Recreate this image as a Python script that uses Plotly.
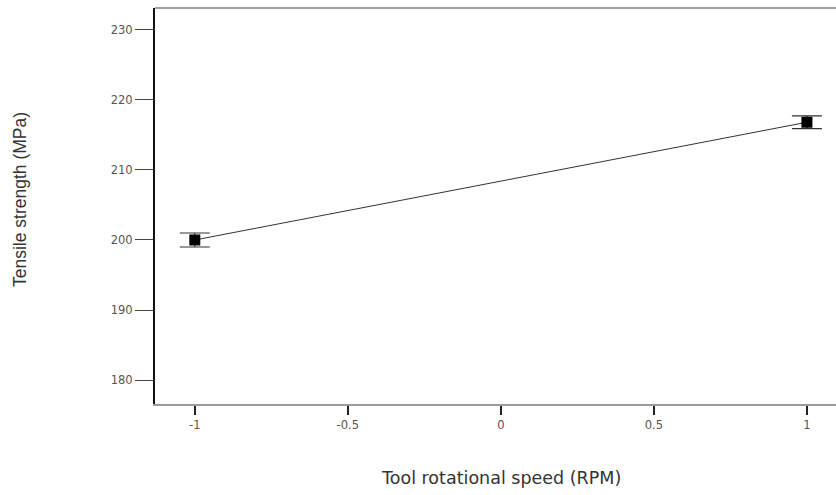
import plotly.graph_objects as go

x_vals = [-1, 1]
y_vals = [200.0, 216.8]
err_vals = [1.0, 0.9]
x_ticks = [-1, -0.5, 0, 0.5, 1]
x_tick_text = ["-1", "-0.5", "0", "0.5", "1"]
y_ticks = [180, 190, 200, 210, 220, 230]

fig = go.Figure()
fig.add_trace(go.Scatter(
    x=x_vals, y=y_vals, mode="lines+markers",
    line=dict(color="#333333", width=1),
    marker=dict(symbol="square", size=11, color="black"),
    error_y=dict(type="data", array=err_vals, visible=True, color="#333333", thickness=1.2, width=15),
    showlegend=False,
))

font = "Liberation Sans, Arial, sans-serif"
wide = "DejaVu Sans, sans-serif"
fig.update_layout(
    width=836, height=495,
    margin=dict(l=155, r=0, t=8, b=91),
    plot_bgcolor="white", paper_bgcolor="white",
    font=dict(family=font, color="#444444"),
    xaxis=dict(range=[-1.13, 1.095], tickvals=x_ticks, ticktext=x_tick_text,
               showgrid=False, zeroline=False, showline=True, linecolor="#9a9a9a", linewidth=2,
               ticks="outside", ticklen=9, tickwidth=1.5, tickcolor="#222222",
               tickfont=dict(size=11.5, color="#555555", family=wide)),
    yaxis=dict(range=[176.6, 233.1], tickvals=y_ticks,
               showgrid=False, zeroline=False, showline=True, linecolor="#111111", linewidth=2,
               ticks="outside", ticklen=18, tickwidth=1.2, tickcolor="#444444",
               tickfont=dict(size=11.5, color="#555555", family=wide)),
    shapes=[dict(type="line", xref="paper", yref="paper", x0=0, x1=1, y0=1, y1=1,
                 line=dict(color="#a0a0a0", width=2))],
    annotations=[
        dict(text="Tool rotational speed (RPM)", xref="paper", yref="paper",
             x=(501 - 155) / 681, y=-(478 - 404) / 396, showarrow=False,
             font=dict(size=17.5, color="#333333", family=wide), xanchor="center", yanchor="middle"),
        dict(text="Tensile strength (MPa)", xref="paper", yref="paper",
             x=-(155 - 20) / 681, y=(404 - 200) / 396, showarrow=False, textangle=-90,
             font=dict(size=17.5, color="#333333", family=font), xanchor="center", yanchor="middle"),
    ],
)

fig.write_html("out.html")
